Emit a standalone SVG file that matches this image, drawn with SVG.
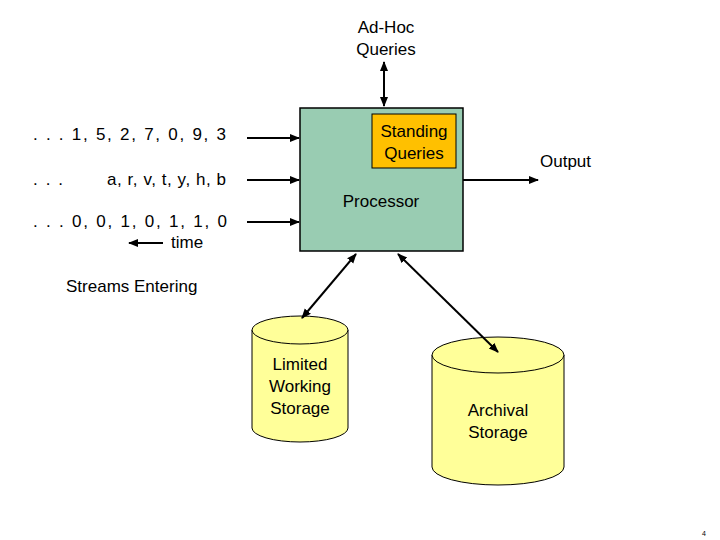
<svg xmlns="http://www.w3.org/2000/svg" width="720" height="540" viewBox="0 0 720 540">
<style>
text{font-family:"Liberation Sans",Arial,sans-serif;font-size:17px;fill:#000}
.c{text-anchor:middle}
.ln{stroke:#000;stroke-width:2;fill:none}
.cyl{fill:#ffff99;stroke:#000;stroke-width:1}
</style>
<defs>
<marker id="a" viewBox="0 0 10 10" refX="9" refY="5" markerWidth="5" markerHeight="5" orient="auto-start-reverse"><path d="M0,1 L10,5 L0,9 z" fill="#000"/></marker>
</defs>
<rect width="720" height="540" fill="#fff"/>
<g id="processor">
<rect x="300" y="108" width="163" height="143" fill="#99ccb2" stroke="#000" stroke-width="1.5"/>
<text class="c" x="381" y="207">Processor</text>
</g>
<g id="standing">
<rect x="372" y="114" width="84" height="54" fill="#ffc000" stroke="#000" stroke-width="1"/>
<text class="c" x="414" y="137">Standing</text>
<text class="c" x="414" y="159">Queries</text>
</g>
<g id="adhoc"><text class="c" x="386" y="33">Ad-Hoc</text><text class="c" x="386" y="55">Queries</text></g>
<g id="streams">
<text x="33" y="140" textLength="193" lengthAdjust="spacing">. . . 1, 5, 2, 7, 0, 9, 3</text>
<text x="33" y="185" textLength="30" lengthAdjust="spacing">. . .</text>
<text x="107" y="185" textLength="119" lengthAdjust="spacing">a, r, v, t, y, h, b</text>
<text x="33" y="227" textLength="194" lengthAdjust="spacing">. . . 0, 0, 1, 0, 1, 1, 0</text>
<text x="171" y="248">time</text>
<text x="66" y="292">Streams Entering</text>
</g>
<g id="output"><text x="540" y="167">Output</text></g>
<g id="lws">
<path class="cyl" d="M252,330 L252,428 A48,14 0 0 0 348,428 L348,330"/>
<ellipse class="cyl" cx="300" cy="330" rx="48" ry="14" fill="#ffffaa"/>
<text class="c" x="300" y="370">Limited</text><text class="c" x="300" y="392">Working</text><text class="c" x="300" y="414">Storage</text>
</g>
<g id="archival">
<path class="cyl" d="M432,355 L432,467 A66,18 0 0 0 564,467 L564,355"/>
<ellipse class="cyl" cx="498" cy="355" rx="66" ry="18" fill="#ffffaa"/>
<text class="c" x="498" y="416">Archival</text><text class="c" x="498" y="438">Storage</text>
</g>
<g id="connectors" class="ln">
<line x1="384" y1="62" x2="384" y2="106" marker-start="url(#a)" marker-end="url(#a)"/>
<line x1="247" y1="138" x2="299" y2="138" marker-end="url(#a)"/>
<line x1="247" y1="180" x2="299" y2="180" marker-end="url(#a)"/>
<line x1="247" y1="222" x2="299" y2="222" marker-end="url(#a)"/>
<line x1="463" y1="180" x2="538" y2="180" marker-end="url(#a)"/>
<line x1="163" y1="243" x2="129" y2="243" marker-end="url(#a)"/>
<line x1="356" y1="254" x2="302" y2="318" marker-start="url(#a)" marker-end="url(#a)"/>
<line x1="398" y1="254" x2="498" y2="352" marker-start="url(#a)" marker-end="url(#a)"/>
</g>
<text x="702" y="536" style="font-size:7px">4</text>
</svg>
